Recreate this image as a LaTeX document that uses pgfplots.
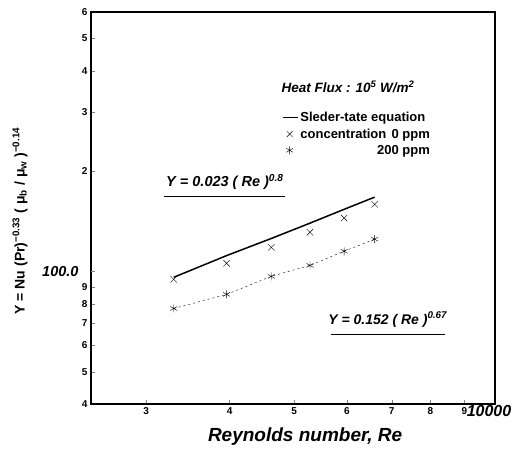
\documentclass[border=0pt]{standalone}
\usepackage{fontspec}
\setmainfont{Liberation Sans}
\usepackage{pgfplots}
\pgfplotsset{compat=1.18}
\begin{document}
\begin{tikzpicture}
\begin{axis}[
 name=ax,
 scale only axis, width=404pt, height=392pt,
 xmode=log, ymode=log,
 xmin=2480, xmax=10000, ymin=40, ymax=600,
 axis line style={line width=1.3pt},
 tick align=inside, tick pos=left,
 major tick length=4pt,
 minor tick length=0pt,
 xtick={3000,4000,5000,6000,7000,8000,9000},
 xticklabels={3,4,5,6,7,8,9},
 extra x ticks={10000}, extra x tick labels={10000},
 extra x tick style={major tick length=0pt, tick label style={font=\fontsize{16}{16}\selectfont\bfseries\itshape, xshift=-6pt, yshift=2pt}},
 ytick={40,50,60,70,80,90,200,300,400,500,600},
 yticklabels={4,5,6,7,8,9,2,3,4,5,6},
 extra y ticks={100}, extra y tick labels={100.0},
 extra y tick style={tick label style={font=\fontsize{14.5}{14.5}\selectfont\bfseries\itshape, xshift=-9pt}},
 tick label style={font=\fontsize{10}{10}\selectfont\bfseries},
 /pgf/number format/assume math mode=true,
 xlabel={Reynolds number, Re},
 xlabel style={at={(rel axis cs:0.53,-0.084)}, anchor=center, font=\fontsize{19}{19}\selectfont\bfseries\itshape},
 ylabel={Y = Nu (Pr)\textsuperscript{−0.33} ( μ\textsubscript{b} / μ\textsubscript{w} )\textsuperscript{−0.14}},
 ylabel style={at={(rel axis cs:-0.176,0.467)}, anchor=center, font=\fontsize{14}{14}\selectfont\bfseries},
 legend style={draw=none, fill=none, at={(rel axis cs:0.472,0.750)}, anchor=north west,
   font=\fontsize{13}{14}\selectfont\bfseries, inner sep=0pt, row sep=1.5pt},
 legend cell align=left,
]
\addlegendimage{legend image code/.code={\draw[line width=1.5pt] (0pt,0pt) -- (15pt,0pt);}}
\addlegendentry{\makebox[4.55cm][l]{Sleder-tate equation}}
\addlegendimage{legend image code/.code={\draw[thin] plot[mark=x, mark size=4pt] coordinates {(7pt,0pt)};}}
\addlegendentry{\makebox[4.55cm][l]{concentration\hfill 0 ppm}}
\addlegendimage{legend image code/.code={\draw[thin] plot[mark=asterisk, mark size=4pt] coordinates {(7pt,0pt)};}}
\addlegendentry{\makebox[4.55cm][r]{200 ppm}}

\addplot[forget plot, line width=1.5pt] coordinates {
 (3300,96) (3960,111.5) (4620,125.5) (5280,139.5) (5940,153.5) (6600,167)};
\addplot[forget plot, only marks, mark=x, mark size=4.5pt, thin] coordinates {
 (3300,94.6) (3960,105.7) (4620,118) (5280,131) (5940,144.5) (6600,159)};
\addplot[forget plot, thin, dash pattern=on 2pt off 3pt, mark=asterisk, mark size=4pt, mark options={solid}] coordinates {
 (3300,77.4) (3960,85.3) (4620,96.6) (5280,104.2) (5940,114.9) (6600,124.9)};

\node[font=\fontsize{14.5}{14}\selectfont\bfseries\itshape] at (axis cs:3937,185) {Y = 0.023 ( Re )\textsuperscript{0.8}};
\draw[line width=0.8pt] (axis cs:3190,168) -- (axis cs:4840,168);
\node[font=\fontsize{14}{14}\selectfont\bfseries\itshape] at (axis cs:6905,71.7) {Y = 0.152 ( Re )\textsuperscript{0.67}};
\draw[line width=0.8pt] (axis cs:5680,64.6) -- (axis cs:8410,64.6);
\node[anchor=west, font=\fontsize{13.5}{14}\selectfont\bfseries\itshape] at (axis cs:4730,358) {Heat Flux : 10\textsuperscript{5} W/m\textsuperscript{2}};
\end{axis}
\path ([xshift=-91pt,yshift=-45pt]ax.south west) rectangle ([xshift=20pt,yshift=12pt]ax.north east);
\end{tikzpicture}
\end{document}
